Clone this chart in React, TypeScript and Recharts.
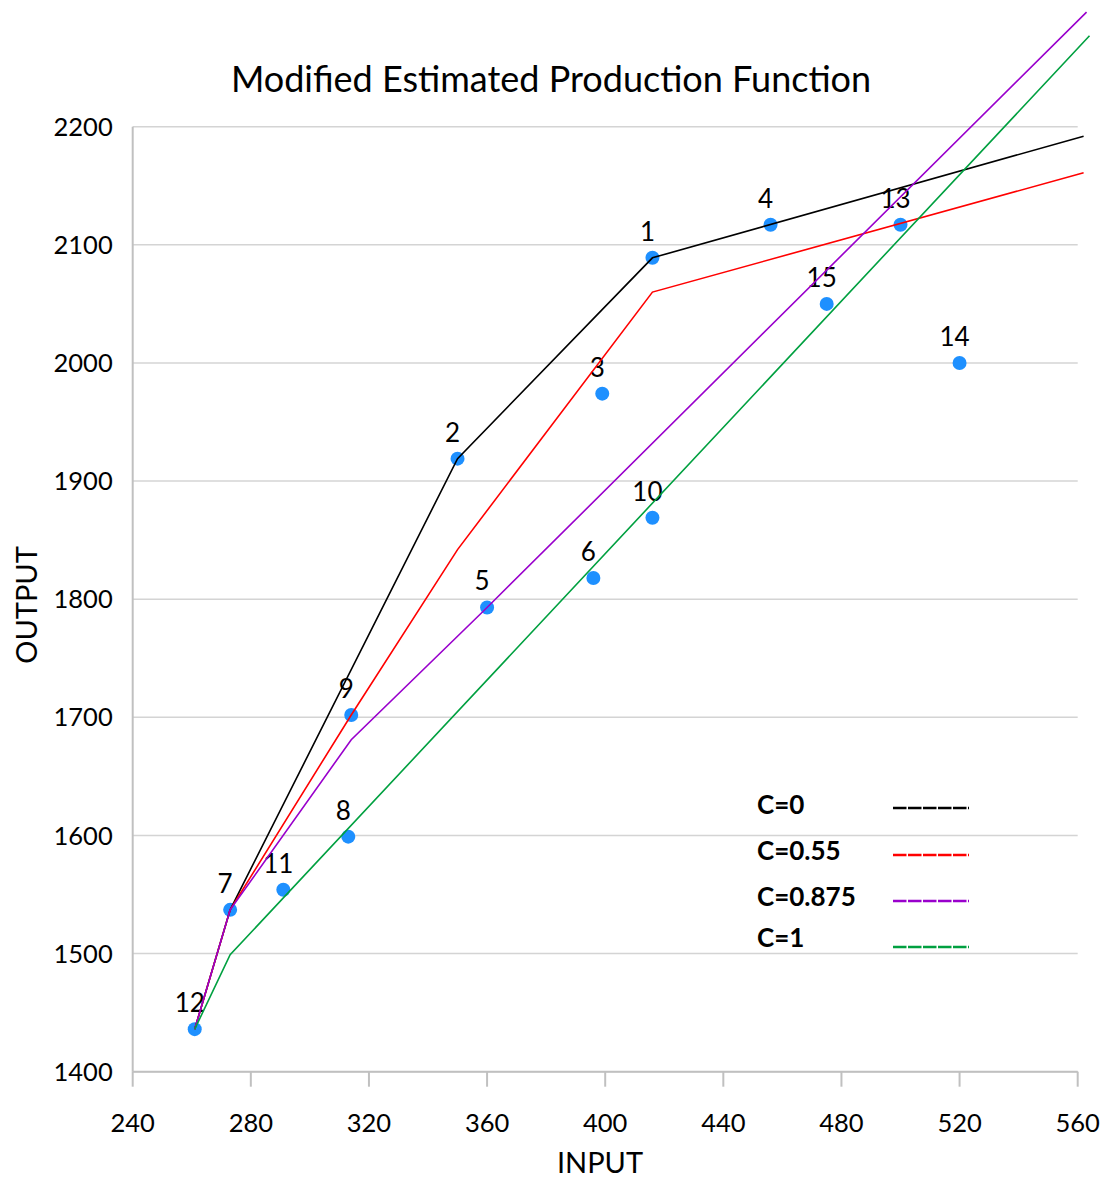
import React from 'react';
import { ComposedChart, Scatter, XAxis, YAxis, CartesianGrid, Customized } from 'recharts';

const FONT = 'Lato, "Open Sans", sans-serif';
const AXIS_GREY = '#c0c0c0';

// observed firms: number, input, output
const firmIds = [1, 2, 3, 4, 5, 6, 7, 8, 9, 10, 11, 12, 13, 14, 15];
const inputs = [416, 350, 399, 456, 360, 396, 273, 313, 314, 416, 291, 261, 500, 520, 475];
const outputs = [2089, 1919, 1974, 2117, 1793, 1818, 1537, 1599, 1702, 1869, 1554, 1436, 2117, 2000, 2050];

// estimated production functions, one polyline per value of C
const c0Input = [261, 273, 350, 416, 562];
const c0Output = [1436, 1537, 1919, 2089, 2192];
const c055Input = [261, 273, 314, 350, 416, 562];
const c055Output = [1436, 1537, 1702, 1842, 2060, 2161];
const c0875Input = [261, 273, 314, 360, 563];
const c0875Output = [1436, 1537, 1681, 1793, 2297];
const c1Input = [261, 273, 564];
const c1Output = [1436, 1499, 2277];

const xTicks = [240, 280, 320, 360, 400, 440, 480, 520, 560];
const yTicks = [1400, 1500, 1600, 1700, 1800, 1900, 2000, 2100, 2200];
const yMinorTicks = [1450, 1550, 1650, 1750, 1850, 1950, 2050, 2150];

const toPoints = (xs: number[], ys: number[]) => xs.map((x, i) => ({ x, y: ys[i] }));

const firms = firmIds.map((id, i) => ({ id, x: inputs[i], y: outputs[i] }));

const frontiers = [
  { name: 'C=0', color: '#000000', data: toPoints(c0Input, c0Output) },
  { name: 'C=0.55', color: '#ff0000', data: toPoints(c055Input, c055Output) },
  { name: 'C=0.875', color: '#9900cc', data: toPoints(c0875Input, c0875Output) },
  { name: 'C=1', color: '#00a040', data: toPoints(c1Input, c1Output) },
];

const FirmDot = (props: any) => {
  const { cx, cy, payload } = props;
  return (
    <g>
      <circle cx={cx} cy={cy} r={7} fill="#1e90ff" />
      <text x={cx - 5} y={cy - 17} textAnchor="middle" fontFamily={FONT} fontSize={26} fill="#000">
        {payload.id}
      </text>
    </g>
  );
};

const NoDot = () => <g />;

// title, axis titles and the legend box sit at fixed spots, like in the source chart
const legendTextY = [814, 860, 906, 947];
const legendLineY = [808, 855, 901, 947];

const Overlay = () => (
  <g fontFamily={FONT} fill="#000">
    <text x={551} y={92} textAnchor="middle" fontSize={36}>
      Modified Estimated Production Function
    </text>
    <text x={600} y={1173} textAnchor="middle" fontSize={29}>
      INPUT
    </text>
    <text transform="translate(37,605) rotate(-90)" textAnchor="middle" fontSize={29}>
      OUTPUT
    </text>
    {frontiers.map((f, i) => (
      <g key={f.name}>
        <text x={757} y={legendTextY[i]} fontSize={26} fontWeight="bold">
          {f.name}
        </text>
        <line
          x1={893}
          x2={969}
          y1={legendLineY[i]}
          y2={legendLineY[i]}
          stroke={f.color}
          strokeWidth={2.5}
          strokeDasharray="13.5 1.5"
        />
      </g>
    ))}
  </g>
);

const App = () => {
  const tickStyle = { fill: '#000', fontSize: 25.5, fontFamily: FONT };
  const axisStroke = { stroke: AXIS_GREY, strokeWidth: 2 };

  return (
    <div style={{ position: 'absolute', left: 0, top: 0, width: 1105, height: 1178, background: '#fff' }}>
      {/* the fitted lines run past the plot frame in the original, so don't clip them */}
      <style>{'.recharts-scatter { clip-path: none !important; }'}</style>
      <ComposedChart width={1105} height={1178} margin={{ top: 126.7, right: 27.3, bottom: 6.3, left: 22.7 }}>
        <CartesianGrid vertical={false} stroke="#d4d4d4" strokeWidth={1.5} />
        <XAxis
          type="number"
          dataKey="x"
          domain={[240, 560]}
          ticks={xTicks}
          allowDataOverflow
          height={100}
          tickSize={15}
          tickMargin={27}
          axisLine={axisStroke}
          tickLine={axisStroke}
          tick={tickStyle}
        />
        <YAxis
          type="number"
          dataKey="y"
          domain={[1400, 2200]}
          ticks={yTicks}
          allowDataOverflow
          width={110}
          tickSize={0}
          tickMargin={20}
          axisLine={axisStroke}
          tickLine={false}
          tick={tickStyle}
        />
        <YAxis
          yAxisId="minor"
          type="number"
          domain={[1400, 2200]}
          ticks={yMinorTicks}
          allowDataOverflow
          mirror
          width={0}
          tickSize={9}
          axisLine={false}
          tickLine={axisStroke}
          tick={false}
        />
        <Scatter data={firms} fill="#1e90ff" shape={FirmDot} isAnimationActive={false} />
        {frontiers.map((f) => (
          <Scatter
            key={f.name}
            name={f.name}
            data={f.data}
            fill={f.color}
            line={{ stroke: f.color, strokeWidth: 1.6 }}
            lineType="joint"
            shape={NoDot}
            isAnimationActive={false}
          />
        ))}
        <Customized component={<Overlay />} />
      </ComposedChart>
    </div>
  );
};

export default App;
